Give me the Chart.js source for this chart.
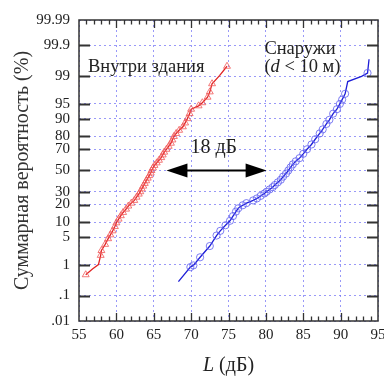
<!DOCTYPE html>
<html>
<head>
<meta charset="utf-8">
<script src="https://cdn.jsdelivr.net/npm/chart.js@4.4.0/dist/chart.umd.min.js"></script>
<style>
  html, body { margin: 0; padding: 0; background: #fff; }
</style>
</head>
<body>
<canvas id="probChart" width="384" height="376"></canvas>
<script>
// Levels inside the building (dB) and their cumulative probabilities (%)
var indoorL = [55.9, 56.8, 57.6, 57.9, 58.0, 58.5, 58.9, 59.2, 59.5, 59.8, 60.0, 60.3, 60.6, 60.9,
  61.3, 61.6, 62.0, 62.4, 62.7, 63.0, 63.2, 63.4, 63.6, 63.8, 64.0, 64.2, 64.4, 64.6, 64.7, 64.9,
  65.1, 65.4, 65.7, 66.0, 66.2, 66.4, 66.7, 67.0, 67.3, 67.5, 67.7, 68.0, 68.4, 68.9, 69.2, 69.5,
  69.8, 70.0, 71.0, 71.5, 72.2, 72.5, 72.8, 73.8, 74.8];
var indoorP = [0.5, 0.75, 1.0, 1.8, 2.4, 3.4, 4.6, 5.6, 6.8, 8.3, 9.8, 11.5, 13.2, 15,
  17, 19, 21, 23, 25.5, 28, 30, 32.5, 35, 37.5, 40, 42.5, 45, 47.5, 50, 52.5,
  55, 57.5, 60, 62.5, 65, 67.5, 70, 72.5, 75, 77.5, 80, 82, 84, 86, 88, 90,
  92, 93.5, 94.5, 95.3, 96.5, 97.4, 98.4, 99.05, 99.5];
var indoorNoMarker = [1, 2, 53];

// Levels outside (d < 10 m)
var outdoorL = [68.3, 69.9, 70.3, 71.2, 72.5, 73.4, 73.9, 74.6, 75.2, 75.6, 76.0, 76.3, 76.9, 77.4,
  78.3, 78.8, 79.3, 79.8, 80.1, 80.5, 80.9, 81.2, 81.6, 82.0, 82.3, 82.7, 83.0, 83.3, 83.6, 84.0,
  84.5, 85.0, 85.5, 86.1, 86.6, 87.2, 87.6, 88.1, 88.5, 89.0, 89.5, 89.9, 90.2, 90.6, 90.95,
  92.8, 93.6, 93.8];
var outdoorP = [0.3, 0.85, 0.95, 1.6, 3.1, 5.4, 6.8, 8.8, 10.7, 13, 15.5, 17.5, 19.5, 21,
  23, 24.5, 26.5, 28.5, 30, 32, 34, 36, 38.5, 41, 44, 47, 50, 53, 56, 59,
  62, 66, 70, 74, 78, 82, 84.5, 87.5, 89.5, 92, 93.5, 95, 96, 97.1, 98.6,
  99.0, 99.2, 99.7];
var outdoorNoMarker = [0, 44, 45, 47];

// probability axis
var probTicks = [0.01, 0.1, 1, 5, 10, 20, 30, 50, 70, 80, 90, 95, 99, 99.9, 99.99];
var probLabels = ['.01', '.1', '1', '5', '10', '20', '30', '50', '70', '80', '90', '95', '99', '99.9', '99.99'];

var SERIF = '"Liberation Serif", "DejaVu Serif", serif';

// inverse normal CDF (Acklam), input in percent
function probit(pct) {
  var p = pct / 100;
  var a = [-3.969683028665376e+01, 2.209460984245205e+02, -2.759285104469687e+02, 1.383577518672690e+02, -3.066479806614716e+01, 2.506628277459239e+00];
  var b = [-5.447609879822406e+01, 1.615858368580409e+02, -1.556989798598866e+02, 6.680131188771972e+01, -1.328068155288572e+01];
  var c = [-7.784894002430293e-03, -3.223964580411365e-01, -2.400758277161838e+00, -2.549732539343734e+00, 4.374664141464968e+00, 2.938163982698783e+00];
  var d = [7.784695709041462e-03, 3.224671290700398e-01, 2.445134137142996e+00, 3.754408661907416e+00];
  var plow = 0.02425, q, r;
  if (p < plow) {
    q = Math.sqrt(-2 * Math.log(p));
    return (((((c[0]*q+c[1])*q+c[2])*q+c[3])*q+c[4])*q+c[5]) / ((((d[0]*q+d[1])*q+d[2])*q+d[3])*q+1);
  } else if (p <= 1 - plow) {
    q = p - 0.5; r = q * q;
    return (((((a[0]*r+a[1])*r+a[2])*r+a[3])*r+a[4])*r+a[5])*q / (((((b[0]*r+b[1])*r+b[2])*r+b[3])*r+b[4])*r+1);
  }
  q = Math.sqrt(-2 * Math.log(1 - p));
  return -(((((c[0]*q+c[1])*q+c[2])*q+c[3])*q+c[4])*q+c[5]) / ((((d[0]*q+d[1])*q+d[2])*q+d[3])*q+1);
}

function toPoints(xs, ps) {
  return xs.map(function (x, i) { return { x: x, y: probit(ps[i]) }; });
}

var zMin = probit(0.01), zMax = probit(99.99);

// frame, inner ticks, arrow and text labels
var decor = {
  id: 'decor',
  afterDraw: function (chart) {
    var ctx = chart.ctx, a = chart.chartArea;
    var xs = chart.scales.x, ys = chart.scales.y;
    ctx.save();
    ctx.strokeStyle = '#333';
    ctx.lineWidth = 2;
    probTicks.slice(1, -1).forEach(function (p) {
      var y = Math.round(ys.getPixelForValue(probit(p))) + 0.5;
      ctx.beginPath();
      ctx.moveTo(a.left, y); ctx.lineTo(a.left + 11, y);
      ctx.moveTo(a.right - 11, y); ctx.lineTo(a.right, y);
      ctx.stroke();
    });
    ctx.lineWidth = 1.3;
    for (var v = 56; v < 95; v++) {
      var x = Math.round(xs.getPixelForValue(v)) + 0.5;
      var len = v % 5 === 0 ? 8 : 4.5;
      ctx.beginPath();
      ctx.moveTo(x, a.bottom); ctx.lineTo(x, a.bottom - len);
      ctx.moveTo(x, a.top); ctx.lineTo(x, a.top + len);
      ctx.stroke();
    }
    ctx.lineWidth = 1.5;
    ctx.strokeRect(a.left, a.top, a.right - a.left, a.bottom - a.top);

    // 18 dB arrow
    var x1 = xs.getPixelForValue(66.7), x2 = xs.getPixelForValue(80.1);
    var ay = ys.getPixelForValue(0);
    var head = 21, hw = 7;
    ctx.fillStyle = '#000';
    ctx.strokeStyle = '#000';
    ctx.lineWidth = 2;
    ctx.beginPath();
    ctx.moveTo(x1 + head - 2, ay); ctx.lineTo(x2 - head + 2, ay);
    ctx.stroke();
    ctx.beginPath();
    ctx.moveTo(x1, ay); ctx.lineTo(x1 + head, ay - hw); ctx.lineTo(x1 + head, ay + hw); ctx.closePath();
    ctx.fill();
    ctx.beginPath();
    ctx.moveTo(x2, ay); ctx.lineTo(x2 - head, ay - hw); ctx.lineTo(x2 - head, ay + hw); ctx.closePath();
    ctx.fill();

    ctx.fillStyle = '#222';
    ctx.textBaseline = 'middle';
    ctx.textAlign = 'left';
    ctx.font = '20px ' + SERIF;
    ctx.fillText('18 дБ', xs.getPixelForValue(69.9), ys.getPixelForValue(0.55));
    ctx.font = '18.5px ' + SERIF;
    ctx.fillText('Внутри здания', xs.getPixelForValue(56.2), ys.getPixelForValue(2.56));
    ctx.fillText('Снаружи', xs.getPixelForValue(79.8), ys.getPixelForValue(3.0));

    // (d < 10 м) with italic d
    var tx = xs.getPixelForValue(79.8), ty = ys.getPixelForValue(2.56);
    var parts = [['(', ''], ['d', 'italic '], [' < 10 м)', '']];
    parts.forEach(function (pt) {
      ctx.font = pt[1] + '18.5px ' + SERIF;
      ctx.fillText(pt[0], tx, ty);
      tx += ctx.measureText(pt[0]).width;
    });

    // x-axis title with italic L
    var t1 = 'L', t2 = ' (дБ)';
    ctx.font = 'italic 20px ' + SERIF;
    var w1 = ctx.measureText(t1).width;
    ctx.font = '20px ' + SERIF;
    var w2 = ctx.measureText(t2).width;
    var cx = (a.left + a.right) / 2 - (w1 + w2) / 2;
    ctx.font = 'italic 20px ' + SERIF;
    ctx.fillText(t1, cx, 366);
    ctx.font = '20px ' + SERIF;
    ctx.fillText(t2, cx + w1, 366);
    ctx.restore();
  }
};

new Chart(document.getElementById('probChart').getContext('2d'), {
  type: 'scatter',
  data: {
    datasets: [{
      label: 'Внутри здания',
      data: toPoints(indoorL, indoorP),
      showLine: true,
      borderColor: 'rgb(225, 35, 35)',
      borderWidth: 1.3,
      pointStyle: 'triangle',
      pointRadius: function (c) { return indoorNoMarker.indexOf(c.dataIndex) >= 0 ? 0 : 4; },
      pointBorderColor: 'rgba(240, 90, 90, 0.9)',
      pointBackgroundColor: 'rgba(255, 255, 255, 0)',
      pointBorderWidth: 0.9
    }, {
      label: 'Снаружи (d < 10 м)',
      data: toPoints(outdoorL, outdoorP),
      showLine: true,
      borderColor: 'rgb(30, 30, 215)',
      borderWidth: 1.3,
      pointStyle: 'circle',
      pointRadius: function (c) { return outdoorNoMarker.indexOf(c.dataIndex) >= 0 ? 0 : 3.6; },
      pointBorderColor: 'rgba(95, 95, 240, 0.9)',
      pointBackgroundColor: 'rgba(255, 255, 255, 0)',
      pointBorderWidth: 0.9
    }]
  },
  options: {
    responsive: false,
    animation: false,
    layout: { padding: { left: 0, right: 6, top: 20, bottom: 0 } },
    plugins: { legend: { display: false }, tooltip: { enabled: false } },
    scales: {
      x: {
        type: 'linear', min: 55, max: 95,
        ticks: { stepSize: 5, padding: 5, color: '#222', font: { family: SERIF, size: 15 } },
        grid: { color: 'rgba(110, 110, 245, 0.7)', lineWidth: 1, drawTicks: false },
        border: { display: false, dash: [2, 3] },
        afterFit: function (s) { s.height = 55; s.paddingLeft = 0; s.paddingRight = 0; }
      },
      y: {
        type: 'linear', min: zMin, max: zMax,
        afterBuildTicks: function (s) { s.ticks = probTicks.map(function (p) { return { value: probit(p) }; }); },
        ticks: {
          autoSkip: false, padding: 9, color: '#222', font: { family: SERIF, size: 15 },
          callback: function (v, i) { return probLabels[i]; }
        },
        grid: { color: 'rgba(110, 110, 245, 0.7)', lineWidth: 1, drawTicks: false },
        border: { display: false, dash: [2, 3] },
        title: { display: true, text: 'Суммарная вероятность (%)', color: '#333', font: { family: SERIF, size: 20 }, padding: { top: 11, bottom: 0 } },
        afterFit: function (s) { s.width = 79; s.paddingTop = 0; s.paddingBottom = 0; }
      }
    }
  },
  plugins: [decor]
});
</script>
</body>
</html>
